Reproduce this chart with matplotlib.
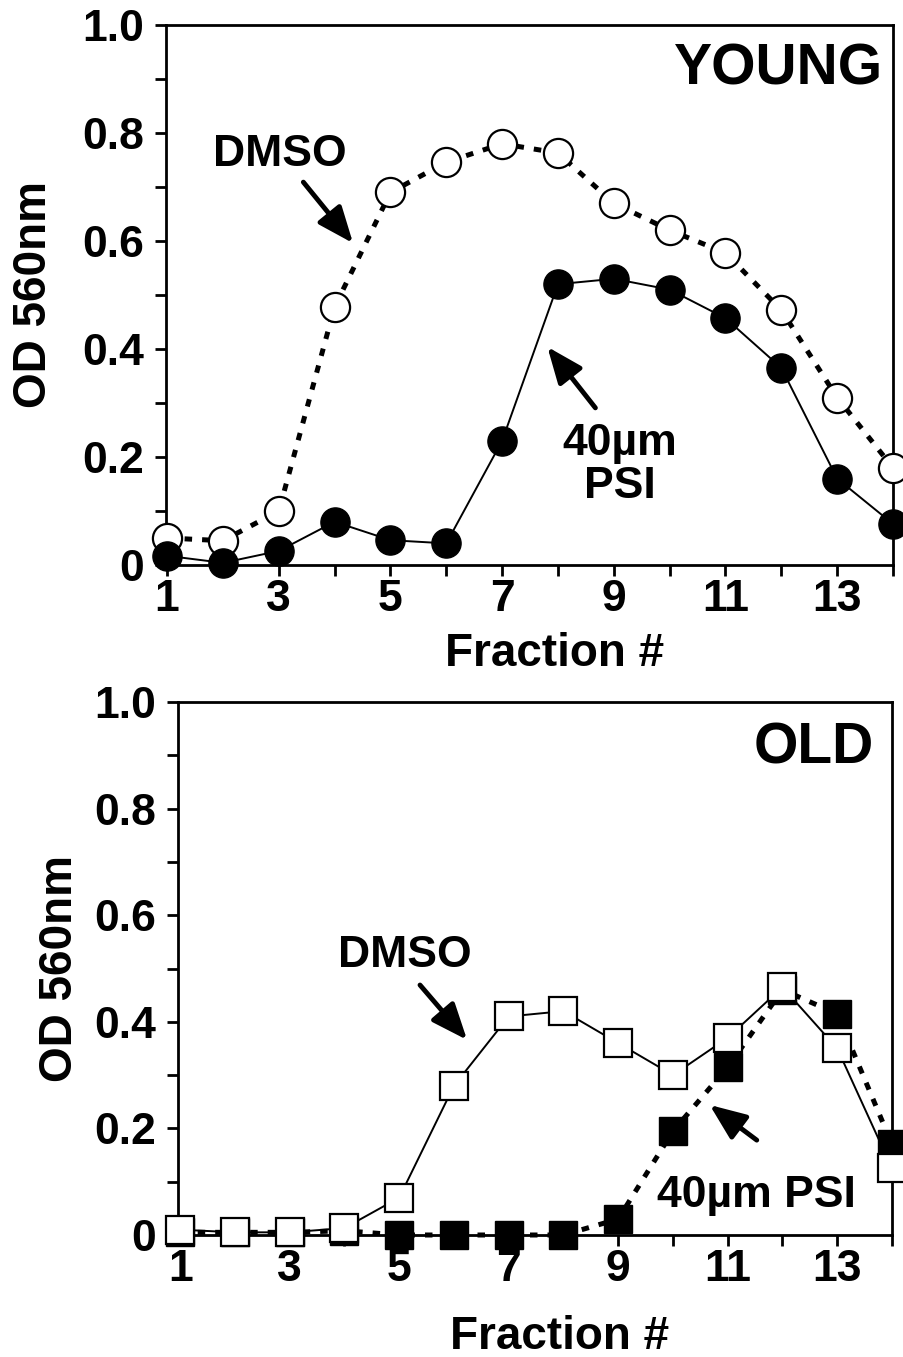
import matplotlib
matplotlib.use("Agg")
import matplotlib.pyplot as plt
from matplotlib.ticker import FixedLocator, MultipleLocator

plt.rcParams.update({
    "font.family": ["Liberation Sans", "DejaVu Sans"],
    "font.weight": "bold",
    "axes.linewidth": 2,
})

fractions = list(range(1, 15))

# YOUNG panel
young_dmso = [0.05, 0.045, 0.10, 0.478, 0.69, 0.746, 0.78, 0.763, 0.67, 0.62, 0.578, 0.472, 0.31, 0.18]
young_psi = [0.017, 0.004, 0.026, 0.08, 0.046, 0.04, 0.23, 0.52, 0.53, 0.51, 0.457, 0.365, 0.16, 0.076]

# OLD panel
old_dmso = [0.01, 0.005, 0.005, 0.013, 0.07, 0.28, 0.41, 0.42, 0.36, 0.30, 0.37, 0.465, 0.35, 0.125]
old_psi = [0.005, 0.005, 0.005, 0.008, 0.0, 0.0, 0.0, 0.0, 0.03, 0.195, 0.315, 0.46, 0.415, 0.17]

x_ticks = [1, 3, 5, 7, 9, 11, 13]
y_ticks = [0, 0.2, 0.4, 0.6, 0.8, 1.0]
y_tick_labels = ["0", "0.2", "0.4", "0.6", "0.8", "1.0"]

W, H = 904, 1357
fig = plt.figure(figsize=(W / 100, H / 100), dpi=100)

ax1 = fig.add_axes([166 / W, 1 - 565 / H, (893 - 166) / W, (565 - 25) / H])
ax2 = fig.add_axes([178 / W, 1 - 1235 / H, (892 - 178) / W, (1235 - 702) / H])

dotted = (0, (1.5, 2.0))
ms = 21

# top: young
ax1.plot(fractions, young_dmso, color="black", lw=3.6, ls=dotted,
         marker="o", ms=ms, mfc="white", mec="black", mew=1.6, clip_on=False, zorder=3)
ax1.plot(fractions, young_psi, color="black", lw=1.4, ls="-",
         marker="o", ms=ms, mfc="black", mec="black", clip_on=False, zorder=4)
ax1.set_xlim(0.98, 14)

# bottom: old
ax2.plot(fractions, old_psi, color="black", lw=3.6, ls=dotted,
         marker="s", ms=ms - 1, mfc="black", mec="black", clip_on=False, zorder=3)
ax2.plot(fractions, old_dmso, color="black", lw=1.4, ls="-",
         marker="s", ms=ms - 1, mfc="white", mec="black", mew=1.6, clip_on=False, zorder=4)
ax2.set_xlim(0.96, 14)

for ax in (ax1, ax2):
    ax.set_ylim(0, 1.0)
    ax.xaxis.set_major_locator(FixedLocator(x_ticks))
    ax.xaxis.set_minor_locator(MultipleLocator(1))
    ax.set_yticks(y_ticks)
    ax.set_yticklabels(y_tick_labels)
    ax.yaxis.set_minor_locator(MultipleLocator(0.1))
    ax.tick_params(which="both", direction="out", length=8, width=2, labelsize=32)
    ax.tick_params(axis="x", pad=2)
    ax.tick_params(axis="y", pad=8)
    ax.set_xlabel("Fraction #", fontsize=33, fontweight="bold")
    ax.set_ylabel("OD 560nm", fontsize=33, fontweight="bold", va="center")
    for lbl in ax.get_xticklabels() + ax.get_yticklabels():
        lbl.set_fontweight("bold")

ax1.xaxis.set_label_coords(0.535, -0.125)
ax1.yaxis.set_label_coords(-0.182, 0.5)
ax2.xaxis.set_label_coords(0.535, -0.15)
ax2.yaxis.set_label_coords(-0.165, 0.5)

arrow = dict(arrowstyle="-|>,head_length=1.1,head_width=0.45", lw=3.5, color="black",
             mutation_scale=20, shrinkA=0, shrinkB=0)

ax1.text(0.986, 0.968, "YOUNG", transform=ax1.transAxes, ha="right", va="top",
         fontsize=41, fontweight="bold")
ax1.text(3.02, 0.76, "DMSO", ha="center", va="center", fontsize=32, fontweight="bold")
ax1.annotate("", xy=(4.33, 0.596), xytext=(3.44, 0.709), arrowprops=arrow)
ax1.text(9.1, 0.185, "40\u00b5m\nPSI", ha="center", va="center", fontsize=32,
         fontweight="bold", linespacing=1.05)
ax1.annotate("", xy=(7.81, 0.404), xytext=(8.67, 0.291), arrowprops=arrow)

ax2.text(0.975, 0.963, "OLD", transform=ax2.transAxes, ha="right", va="top",
         fontsize=41, fontweight="bold")
ax2.text(5.1, 0.525, "DMSO", ha="center", va="center", fontsize=32, fontweight="bold")
ax2.annotate("", xy=(6.24, 0.366), xytext=(5.38, 0.469), arrowprops=arrow)
ax2.text(11.53, 0.075, "40\u00b5m PSI", ha="center", va="center", fontsize=32,
         fontweight="bold")
ax2.annotate("", xy=(10.67, 0.244), xytext=(11.53, 0.178), arrowprops=arrow)

fig.savefig("out.png", dpi=100)
